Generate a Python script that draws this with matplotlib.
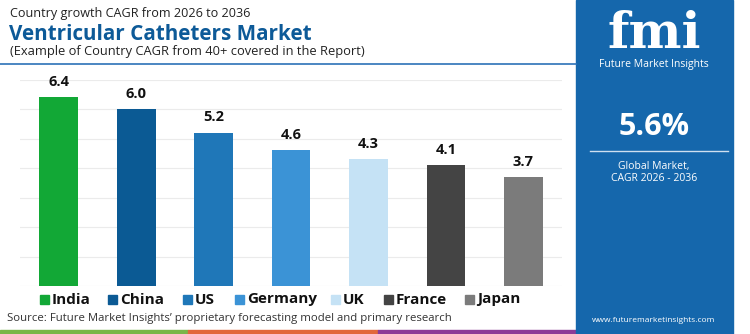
import matplotlib
matplotlib.use("Agg")
import matplotlib.pyplot as plt
from matplotlib.patches import Rectangle
from matplotlib.lines import Line2D

countries = ["India", "China", "US", "Germany", "UK", "France", "Japan"]
cagr = [6.4, 6.0, 5.2, 4.6, 4.3, 4.1, 3.7]
colors = ["#12a836", "#0b5a94", "#1f77b8", "#3b93d6", "#c5e2f5", "#444444", "#7b7b7b"]
global_cagr = "5.6%"

W, H = 750, 334
fig = plt.figure(figsize=(7.5, 3.34), dpi=100)
fig.patch.set_facecolor("white")
FONT = "Open Sans"

def fx(x):
    return x / W

def fy(y):
    return 1 - y / H

# Chart axes
ax = fig.add_axes([fx(20), fy(286), fx(562) - fx(20), fy(79.5) - fy(286)])
x = range(len(countries))
ax.bar(x, cagr, width=0.5, color=colors, zorder=3)
ax.set_xlim(-0.5, len(countries) - 0.5)
ax.set_ylim(0, 7)
ax.set_yticks(range(0, 8))
ax.grid(axis="y", color="#ebebeb", linewidth=0.8, zorder=0)
ax.set_xticks([])
ax.tick_params(left=False, labelleft=False)
for s in ax.spines.values():
    s.set_visible(False)
for i, v in enumerate(cagr):
    ax.annotate(f"{v:.1f}", (i, v), xytext=(0, 6), textcoords="offset points",
                ha="center", va="bottom", fontsize=10.5, fontweight="bold",
                family=FONT, color="#111111", annotation_clip=False)

# Header
fig.text(fx(10), fy(14), "Country growth CAGR from 2026 to 2036", fontsize=9.1,
         family=FONT, color="#222222", va="center", ha="left")
fig.text(fx(9), fy(34), "Ventricular Catheters Market", fontsize=14.9,
         family=FONT, fontweight="bold", color="#0d5a98", va="center", ha="left")
fig.text(fx(10), fy(51), "(Example of Country CAGR from 40+ covered in the Report)",
         fontsize=9.3, family=FONT, color="#222222", va="center", ha="left")
fig.add_artist(Line2D([fx(0), fx(576)], [fy(64), fy(64)], color="#2c72b8", linewidth=1.2))

# Legend
leg_sq = [40, 108, 183, 235, 331, 384, 465]
for xs, name, c in zip(leg_sq, countries, colors):
    fig.add_artist(Rectangle((fx(xs), fy(304)), fx(9), 9 / H, color=c))
    fig.text(fx(xs + 12), fy(299.5), name, fontsize=11, fontweight="bold",
             family=FONT, color="#111111", va="center", ha="left")

# Source
fig.text(fx(7), fy(319), "Source: Future Market Insights\u2019 proprietary forecasting model and primary research",
         fontsize=8.2, family=FONT, color="#333333", va="center", ha="left")

# Bottom strip
for x0, x1, c in [(0, 188, "#7ab648"), (188, 378, "#e2673a"), (378, 576, "#8e3b97")]:
    fig.add_artist(Rectangle((fx(x0), 0), fx(x1 - x0), 4 / H, color=c))

# Right panel
fig.add_artist(Rectangle((fx(576), 0), fx(733 - 576), 1, color="#1567ac"))
cx = fx(654)
fig.text(cx, fy(35), "fmi", fontsize=36, fontweight="bold", family="DejaVu Serif",
         color="white", ha="center", va="center")
fig.text(cx, fy(65), "Future Market Insights", fontsize=7.5, family=FONT,
         color="white", ha="center", va="center")
fig.text(cx, fy(127), global_cagr, fontsize=22, fontweight="bold", family=FONT,
         color="white", ha="center", va="center")
fig.add_artist(Line2D([fx(590), fx(728)], [fy(151), fy(151)], color="#cfe0f0", linewidth=1))
fig.text(cx, fy(166), "Global Market,", fontsize=7.5, family=FONT,
         color="white", ha="center", va="center")
fig.text(cx, fy(179), "CAGR 2026 - 2036", fontsize=7.5, family=FONT,
         color="white", ha="center", va="center")
fig.text(cx, fy(320), "www.futuremarketinsights.com", fontsize=6.0, family=FONT,
         color="white", ha="center", va="center")

fig.savefig("out.png", dpi=100)
